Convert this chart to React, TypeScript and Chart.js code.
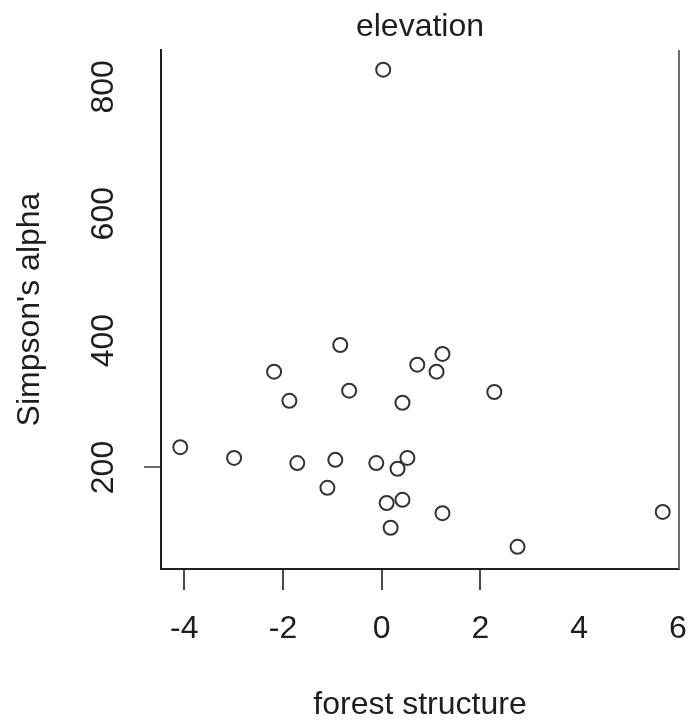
import { useEffect, useRef } from "react";
import { Chart, registerables } from "chart.js";

Chart.register(...registerables);

// forest structure score (x) against Simpson's alpha (y), one entry per plot
const structure = [
  0.03, -0.84, -2.18, -1.87, -0.66, 0.72, 1.23, 1.11, 2.28, 0.42, -4.08, -2.99,
  -1.71, -0.94, -1.1, -0.11, 0.52, 0.32, 0.1, 0.42, 0.18, 1.23, 2.75, 5.69,
];
const alpha = [
  827, 393, 351, 305, 321, 362, 379, 351, 319, 302, 232, 215, 207, 212, 168,
  207, 215, 198, 144, 149, 105, 128, 75, 130,
];

const xTicks = [-4, -2, 0, 2, 4, 6];
const yTicks = [200, 400, 600, 800];
// ticks that carry a tick mark on the axis
const xMarked = [-4, -2, 0, 2];
const yMarked = [200];

const FONT = "'Liberation Sans', Arial, Helvetica, sans-serif";
const INK = "#1e1e1e";

const rightFrame = {
  id: "rightFrame",
  afterDraw(chart: any) {
    const { ctx, chartArea } = chart;
    ctx.save();
    ctx.strokeStyle = "#6e6e6e";
    ctx.lineWidth = 2;
    ctx.beginPath();
    ctx.moveTo(chartArea.right, chartArea.top);
    ctx.lineTo(chartArea.right, chartArea.bottom);
    ctx.stroke();
    ctx.restore();
  },
};

export default function App() {
  const ref = useRef<HTMLCanvasElement | null>(null);

  useEffect(() => {
    if (!ref.current) return;
    const points = structure.map((x, i) => ({ x, y: alpha[i] }));
    const chart = new Chart(ref.current, {
      type: "scatter",
      data: {
        datasets: [
          {
            data: points,
            pointStyle: "circle",
            pointRadius: 7,
            pointBorderWidth: 2,
            pointBorderColor: "#333333",
            pointBackgroundColor: "rgba(0,0,0,0)",
          },
        ],
      },
      options: {
        animation: false,
        responsive: false,
        devicePixelRatio: 1,
        layout: { padding: { left: 0, right: 11, top: 0, bottom: 0 } },
        plugins: {
          legend: { display: false },
          tooltip: { enabled: false },
          title: {
            display: true,
            text: "elevation",
            fullSize: false,
            color: INK,
            font: { family: FONT, size: 32, weight: "normal" },
            padding: { top: 8, bottom: 3.6 },
          },
        },
        scales: {
          x: {
            type: "linear",
            min: -4.47,
            max: 6.02,
            afterBuildTicks: (scale: any) => {
              scale.ticks = xTicks.map((value) => ({ value }));
            },
            afterFit: (scale: any) => {
              scale.height = 152;
              scale.paddingLeft = 0;
              scale.paddingRight = 0;
            },
            grid: {
              drawOnChartArea: false,
              drawTicks: true,
              tickLength: 21,
              lineWidth: 2,
              color: (c: any) =>
                c.tick && xMarked.includes(c.tick.value) ? "#4a4a4a" : "rgba(0,0,0,0)",
            },
            border: { display: true, color: INK, width: 2 },
            ticks: {
              autoSkip: false,
              padding: 20,
              color: INK,
              font: { family: FONT, size: 32 },
              callback: (v: any) => String(v),
            },
            title: {
              display: true,
              text: "forest structure",
              color: INK,
              font: { family: FONT, size: 32, lineHeight: 1 },
              padding: { top: 0, bottom: 0 },
            },
          },
          y: {
            type: "linear",
            min: 40,
            max: 858,
            afterBuildTicks: (scale: any) => {
              scale.ticks = yTicks.map((value) => ({ value }));
            },
            afterFit: (scale: any) => {
              scale.width = 161;
              scale.paddingTop = 0;
              scale.paddingBottom = 0;
            },
            grid: {
              drawOnChartArea: false,
              drawTicks: true,
              tickLength: 17,
              lineWidth: 2,
              color: (c: any) =>
                c.tick && yMarked.includes(c.tick.value) ? "#6a6a6a" : "rgba(0,0,0,0)",
            },
            border: { display: true, color: INK, width: 2 },
            ticks: {
              autoSkip: false,
              minRotation: 90,
              maxRotation: 90,
              crossAlign: "center",
              padding: 13,
              color: INK,
              font: { family: FONT, size: 32 },
              callback: (v: any) => String(v),
            },
            title: {
              display: true,
              text: "Simpson's alpha",
              color: INK,
              font: { family: FONT, size: 32, lineHeight: 1 },
              padding: { top: 14, bottom: 0 },
            },
          },
        },
      },
      plugins: [rightFrame],
    } as any);
    return () => chart.destroy();
  }, []);

  return (
    <div
      style={{
        position: "fixed",
        left: 0,
        top: 0,
        width: 690,
        height: 721,
        background: "#ffffff",
      }}
    >
      <canvas ref={ref} width={690} height={721} style={{ display: "block" }} />
    </div>
  );
}
